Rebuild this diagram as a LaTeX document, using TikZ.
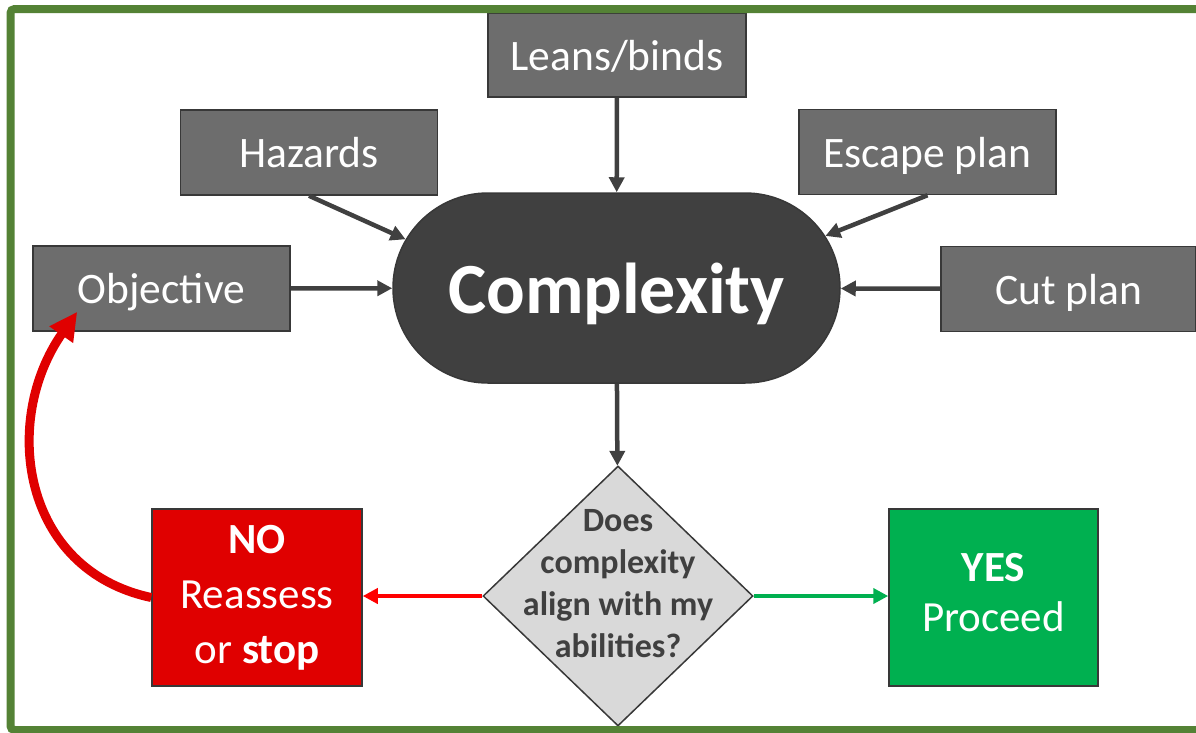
\documentclass[tikz,border=0pt]{standalone}
\usepackage{fontspec}
\setmainfont{Carlito}
\usetikzlibrary{shapes.geometric}
\usetikzlibrary{shapes.misc}
\usetikzlibrary{arrows.meta}

\definecolor{boxgray}{HTML}{6D6D6D}
\definecolor{boxline}{HTML}{383838}
\definecolor{cxgray}{HTML}{404040}
\definecolor{diagray}{HTML}{D9D9D9}
\definecolor{nored}{HTML}{E00000}
\definecolor{arrowred}{HTML}{FF0000}
\definecolor{yesgreen}{HTML}{00B050}
\definecolor{framegreen}{HTML}{548235}

\tikzset{
  topic/.style={rectangle, draw=boxline, line width=1.5pt, fill=boxgray, text=white,
    font=\fontsize{43.5}{50}\selectfont, text depth=0pt,
    minimum width=257pt, minimum height=85pt, inner sep=0pt},
  answer/.style={rectangle, draw=boxline, line width=1.5pt, text=white, align=center,
    minimum width=210pt, minimum height=177pt, inner sep=0pt},
  feed/.style={draw=cxgray, line width=4.5pt, -{Triangle[length=15pt,width=15pt]}},
}

\begin{document}
\begin{tikzpicture}[x=1pt, y=-1pt]
\useasboundingbox (0,0) rectangle (1196,732);

\node [topic, minimum width=258pt, minimum height=84pt] (lb) at (617,55) {Leans/binds};
\node [topic] (hz) at (309,152.5) {Hazards};
\node [topic] (esc) at (927.5,152) {Escape plan};
\node [topic] (obj) at (161.5,288.5) {Objective};
\node [topic, minimum width=255pt] (cut) at (1068.5,289) {Cut plan};

\node [rounded rectangle, draw=boxline, line width=1.5pt, fill=cxgray, text=white,
  minimum width=447pt, minimum height=190pt, inner sep=0pt, text depth=0pt,
  font=\fontsize{72}{80}\selectfont\bfseries] (cx) at (616.5,288) {Complexity};

\node [diamond, draw=boxline, line width=1.5pt, fill=diagray, minimum width=270pt,
  minimum height=260pt, inner sep=0pt] (dia) at (618,596) {};
\node [align=center, text=cxgray, font=\fontsize{34}{42}\selectfont\bfseries] (diatext) at (618,584)
  {Does\\complexity\\align with my\\abilities?};

\node [answer, fill=nored, font=\fontsize{43}{55}\selectfont] (no) at (257,597.5)
  {\textbf{NO}\\Reassess\\or \textbf{stop}};
\node [answer, fill=yesgreen, minimum width=209pt, text depth=10pt,
  font=\fontsize{43}{50}\selectfont] (yes) at (993.5,597.5)
  {\textbf{YES}\\Proceed};

% inputs into the complexity node
\draw[feed] (lb) -- (cx);
\draw[feed] (hz.south) -- (cx.167);
\draw[feed] (esc.south) -- (cx.14);
\draw[feed] (obj) -- (cx);
\draw[feed] (cut) -- (cx);
\draw[feed] (cx) -- (dia);

% decision
\draw[draw=arrowred, line width=4pt, -{Triangle[length=15pt,width=15pt]}] (dia.west) -- (dia.west -| no.east);
\draw[draw=yesgreen, line width=4pt, -{Triangle[length=15pt,width=15pt]}] (dia.east) -- (dia.east -| yes.west);
\draw[draw=nored, line width=9pt, -{Triangle[length=28pt,width=27pt]}]
  (no.west) to[out=168, in=235, looseness=1.15] ([xshift=45pt,yshift=20pt]obj.south west);

% frame
\draw[framegreen, line width=8pt, rounded corners=4pt] (10.5,9) rectangle (1210,730);
\end{tikzpicture}
\end{document}
